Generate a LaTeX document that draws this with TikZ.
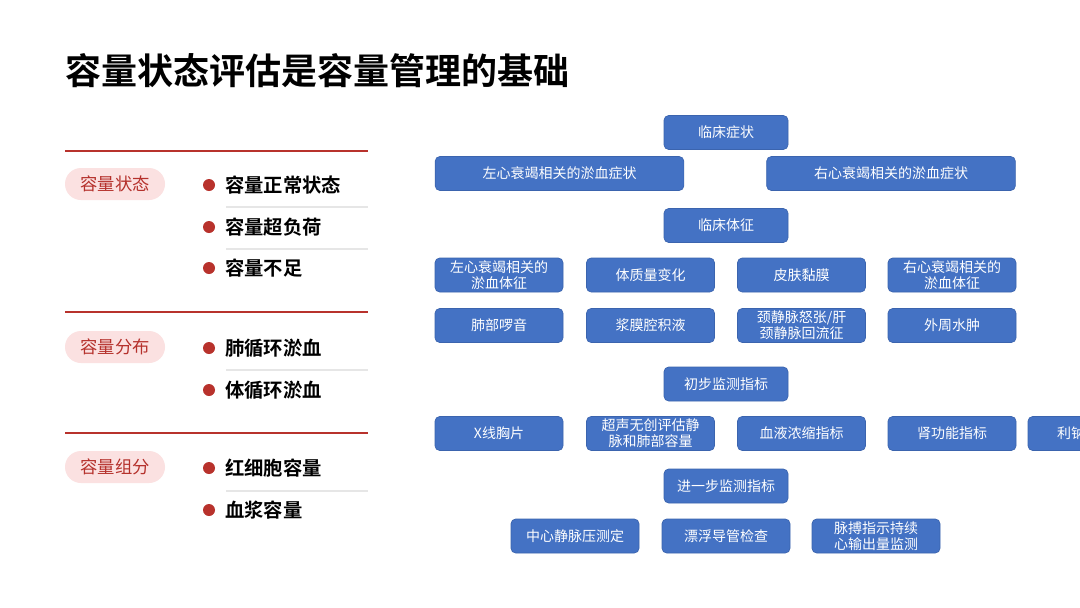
\documentclass[tikz,border=0pt]{standalone}
\usepackage{fontspec}
\setmainfont{Noto Sans CJK SC}
\newfontfamily\cjkb{Noto Sans CJK SC Bold}
\usetikzlibrary{shapes.misc}
\definecolor{boxblue}{HTML}{4472C4}
\definecolor{boxedge}{HTML}{3B64AE}
\definecolor{darkred}{HTML}{B8322C}
\definecolor{pillfill}{HTML}{FBE1E1}
\definecolor{pilltext}{HTML}{B5312C}
\definecolor{sepgray}{HTML}{E6E6E6}
\tikzset{
  bbox/.style={rounded corners=3.5pt, fill=boxblue, draw=boxedge, line width=0.5pt,
    text=white, font=\fontsize{10.5pt}{12pt}\selectfont, align=center,
    minimum width=96pt, minimum height=25.5pt, inner sep=1pt},
  wbox/.style={bbox, minimum width=186.5pt},
  cbox/.style={bbox, minimum width=93pt},
  pill/.style={rounded rectangle, fill=pillfill, text=pilltext,
    font=\fontsize{13pt}{15pt}\selectfont, minimum width=75pt, minimum height=24pt, inner sep=0pt},
  item/.style={anchor=west, font=\cjkb\fontsize{14.5pt}{16pt}\selectfont, text=black, inner sep=0pt},
  dot/.style={circle, fill=darkred, minimum size=9pt, inner sep=0pt},
  redline/.style={draw=darkred, line width=1.5pt},
  sepline/.style={draw=sepgray, line width=0.8pt}
}
\begin{document}
\begin{tikzpicture}[x=0.75pt,y=-0.75pt]
\useasboundingbox (0,0) rectangle (1080,607);
\clip (0,0) rectangle (1080,607);
\fill[white] (0,0) rectangle (1080,607);

% title
\node[anchor=west, inner sep=0pt, font=\cjkb\fontsize{27pt}{30pt}\selectfont] (title) at (65,71) {容量状态评估是容量管理的基础};

% left panel
\coordinate (r1a) at (65,151); \coordinate (r1b) at (368,151);
\coordinate (r2a) at (65,312); \coordinate (r2b) at (368,312);
\coordinate (r3a) at (65,433); \coordinate (r3b) at (368,433);
\draw[redline] (r1a) -- (r1b);
\draw[redline] (r2a) -- (r2b);
\draw[redline] (r3a) -- (r3b);

\coordinate (s1a) at (226,207); \coordinate (s1b) at (368,207);
\coordinate (s2a) at (226,249); \coordinate (s2b) at (368,249);
\coordinate (s3a) at (226,370); \coordinate (s3b) at (368,370);
\coordinate (s4a) at (226,491); \coordinate (s4b) at (368,491);
\draw[sepline] (s1a) -- (s1b);
\draw[sepline] (s2a) -- (s2b);
\draw[sepline] (s3a) -- (s3b);
\draw[sepline] (s4a) -- (s4b);

\node[pill] (p1) at (115,184) {容量状态};
\node[pill] (p2) at (115,347) {容量分布};
\node[pill] (p3) at (115,467) {容量组分};

\node[dot] (d1) at (209,185) {}; \node[item] (i1) at (225,185) {容量正常状态};
\node[dot] (d2) at (209,227) {}; \node[item] (i2) at (225,227) {容量超负荷};
\node[dot] (d3) at (209,268) {}; \node[item] (i3) at (225,268) {容量不足};
\node[dot] (d4) at (209,348) {}; \node[item] (i4) at (225,348) {肺循环淤血};
\node[dot] (d5) at (209,390) {}; \node[item] (i5) at (225,390) {体循环淤血};
\node[dot] (d6) at (209,468) {}; \node[item] (i6) at (225,468) {红细胞容量};
\node[dot] (d7) at (209,510) {}; \node[item] (i7) at (225,510) {血浆容量};

% right diagram
\node[cbox] (lczz) at (726,132.5) {临床症状};
\node[wbox] (zxzz) at (559.5,173.5) {左心衰竭相关的淤血症状};
\node[wbox] (yxzz) at (891,173.5) {右心衰竭相关的淤血症状};
\node[cbox] (lctz) at (726,225.5) {临床体征};

\node[bbox] (a1) at (499,275) {左心衰竭相关的\\淤血体征};
\node[bbox] (a2) at (650.5,275) {体质量变化};
\node[bbox] (a3) at (801.5,275) {皮肤黏膜};
\node[bbox] (a4) at (952,275) {右心衰竭相关的\\淤血体征};

\node[bbox] (b1) at (499,325.5) {肺部啰音};
\node[bbox] (b2) at (650.5,325.5) {浆膜腔积液};
\node[bbox] (b3) at (801.5,325.5) {颈静脉怒张/肝\\颈静脉回流征};
\node[bbox] (b4) at (952,325.5) {外周水肿};

\node[cbox] (cbjc) at (726,384) {初步监测指标};

\node[bbox] (c1) at (499,433.5) {X线胸片};
\node[bbox] (c2) at (650.5,433.5) {超声无创评估静\\脉和肺部容量};
\node[bbox] (c3) at (801.5,433.5) {血液浓缩指标};
\node[bbox] (c4) at (952,433.5) {肾功能指标};
\node[bbox] (c5) at (1092,433.5) {利钠肽指标};

\node[cbox] (jybjc) at (726,486) {进一步监测指标};

\node[bbox] (e1) at (575,536) {中心静脉压测定};
\node[bbox] (e2) at (726,536) {漂浮导管检查};
\node[bbox] (e3) at (876,536) {脉搏指示持续\\心输出量监测};
\end{tikzpicture}
\end{document}
